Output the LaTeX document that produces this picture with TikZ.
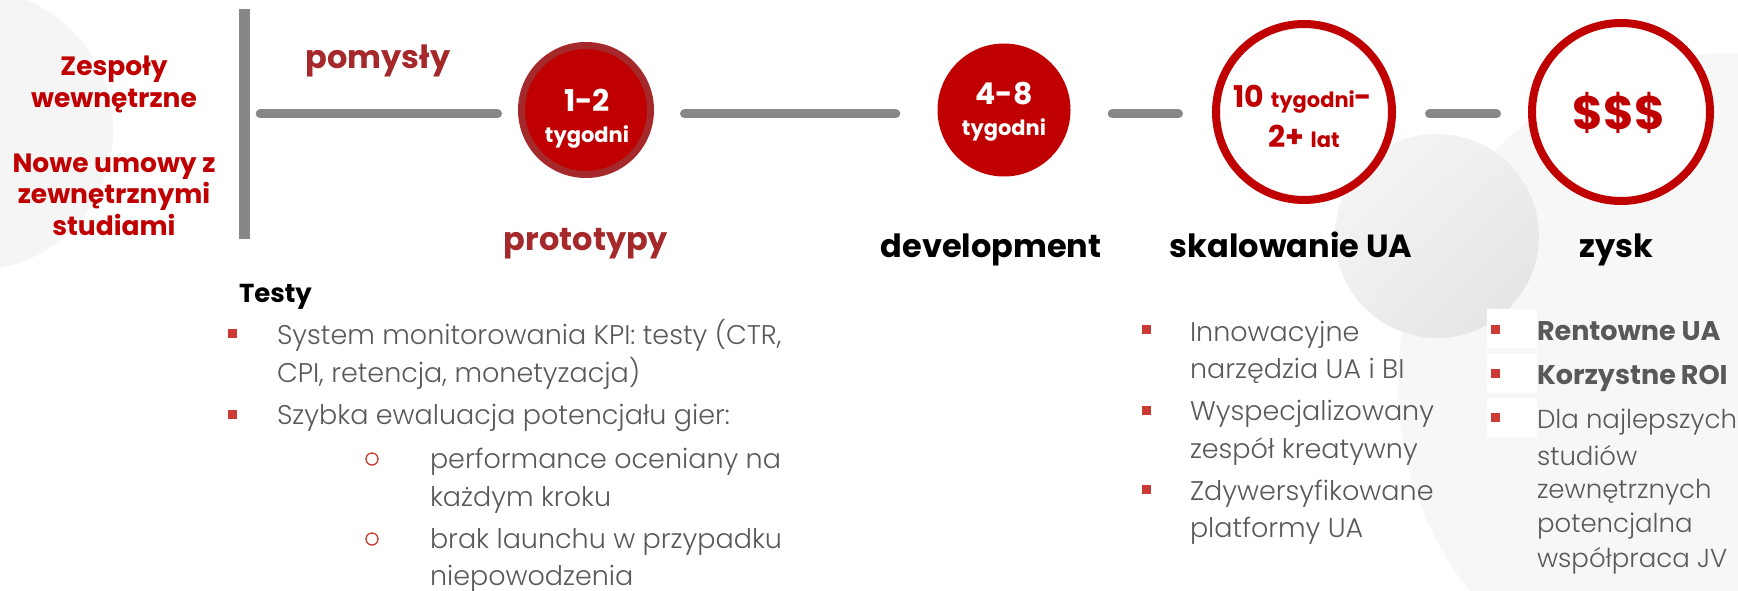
\documentclass[tikz,border=0pt]{standalone}
\usepackage{fontspec}
\setmainfont{Poppins}
\IfFontExistsTF{Poppins Light}{\newfontfamily\lightf{Poppins Light}}{\newfontfamily\lightf{Poppins}}
\usetikzlibrary{shadings}
\definecolor{cred}{HTML}{C00000}
\definecolor{cbrown}{HTML}{A5282A}
\definecolor{cgray}{HTML}{878787}
\definecolor{ctext}{HTML}{595959}
\definecolor{cbul}{HTML}{CC3A35}
\definecolor{bgA}{HTML}{F5F5F5}
\definecolor{bgB}{HTML}{F7F7F7}
\definecolor{shA}{HTML}{F6F6F6}
\definecolor{shB}{HTML}{EEEEEE}
\definecolor{shC}{HTML}{E2E2E2}
\tikzset{
  conn/.style={draw=cgray, line width=9pt, line cap=round},
  txt/.style={inner sep=0pt, outer sep=0pt},
  side/.style={txt, anchor=base, text=cred, font=\fontsize{26.5}{30}\selectfont\bfseries},
  head/.style={txt, anchor=base, font=\fontsize{32}{38}\selectfont\bfseries},
  lst/.style={txt, anchor=base west, text=ctext, font=\lightf\fontsize{27}{30}\selectfont},
  lstr/.style={txt, anchor=base west, text=ctext, font=\lightf\fontsize{26}{30}\selectfont},
  lstb/.style={txt, anchor=base west, text=ctext, font=\fontsize{27}{30}\selectfont\bfseries},
  sq/.style={fill=cbul, minimum size=9pt, inner sep=0pt},
  ring/.style={circle, draw=cbul, line width=1.3pt, minimum size=12pt, inner sep=0pt},
  bignum/.style={txt, anchor=base, font=\fontsize{30}{36}\selectfont\bfseries},
  smallw/.style={txt, anchor=base, font=\fontsize{21}{24}\selectfont\bfseries},
  stage/.style={circle, inner sep=0pt},
  wbox/.style={fill=white, minimum width=50pt, minimum height=39pt, inner sep=0pt}
}
\newcommand{\bigf}{\fontsize{30}{36}\selectfont}
\newcommand{\smallf}{\fontsize{21}{24}\selectfont}
\begin{document}
\begin{tikzpicture}[x=1pt,y=-1pt]
\useasboundingbox (0,0) rectangle (1738,591);
% background
\fill[bgA] (-28,130) circle[radius=141pt];
\fill[bgB] (1730,385) circle[radius=332pt];
\shade[upper left=shA, upper right=shB, lower left=shB, lower right=shC] (1437,236) circle[radius=102pt];

% left side text
\node[side] (s1) at (114,76) {Zespoły};
\node[side] (s2) at (114,108) {wewnętrzne};
\node[side] (s3) at (114,172) {Nowe umowy z};
\node[side] (s4) at (114,203) {zewnętrznymi};
\node[side] (s5) at (114,235) {studiami};

% bar
\node[fill=cgray, minimum width=11pt, minimum height=230pt, inner sep=0pt] (bar) at (244,124) {};

% stages
\node[stage, fill=cred, draw=cbrown, line width=7pt, minimum size=129pt] (c1) at (586,110) {};
\node[stage, fill=cred, minimum size=133pt] (c2) at (1004,110) {};
\node[stage, fill=white, draw=cred, line width=8pt, minimum size=176pt] (c3) at (1304,112) {};
\node[stage, fill=white, draw=cred, line width=8pt, minimum size=178pt] (c4) at (1621,112) {};

% connectors
\coordinate (ly) at (0,114);
\draw[conn, shorten <=10.5pt, shorten >=20.5pt] (bar.east |- ly) -- (c1.west |- ly);
\draw[conn, shorten <=30.5pt, shorten >=41.5pt] (c1.east |- ly) -- (c2.west |- ly);
\draw[conn, shorten <=41.5pt, shorten >=33.5pt] (c2.east |- ly) -- (c3.west |- ly);
\draw[conn, shorten <=33.5pt, shorten >=31.5pt] (c3.east |- ly) -- (c4.west |- ly);

% circle texts
\node[bignum, text=white] (t1a) at (587,112) {1-2};
\node[smallw, text=white] (t1b) at (587,143) {tygodni};
\node[bignum, text=white] (t2a) at (1004,105) {4-8};
\node[smallw, text=white] (t2b) at (1004,136) {tygodni};
\node[txt, anchor=base, text=cred, font=\bfseries] (t3a) at (1303,108) {{\bigf 10 }{\smallf tygodni}{\bigf -}};
\node[txt, anchor=base, text=cred, font=\bfseries] (t3b) at (1304,148) {{\bigf 2+ }{\smallf lat}};
\node[txt, text=cred, font=\fontsize{47}{52}\selectfont\bfseries] (t4) at (1619,113) {\$\$\$};

% headings
\node[head, text=cbrown] (hp) at (378,69) {pomysły};
\node[head, text=cbrown] (h1) at (586,250) {prototypy};
\node[head] (h2) at (991,257) {development};
\node[head] (h3) at (1291,257) {skalowanie UA};
\node[head] (h4) at (1616,257) {zysk};

% left list
\node[txt, anchor=base west, font=\fontsize{26}{30}\selectfont\bfseries] (testy) at (239,302) {Testy};
\node[sq] (b1) at (232.5,333.5) {};
\node[lst] (l1a) at (277,344) {System monitorowania KPI: testy (CTR,};
\node[lst] (l1b) at (277,382) {CPI, retencja, monetyzacja)};
\node[sq] (b2) at (232.5,414) {};
\node[lst] (l2a) at (277,424) {Szybka ewaluacja potencjału gier:};
\node[ring] (r1) at (372,459) {};
\node[lst] (l3a) at (430,468) {performance oceniany na};
\node[lst] (l3b) at (430,506) {każdym kroku};
\node[ring] (r2) at (372,539) {};
\node[lst] (l4a) at (430,548) {brak launchu w przypadku};
\node[lst] (l4b) at (430,585) {niepowodzenia};

% middle-right list
\node[sq] (m1) at (1146,329) {};
\node[lst] (m1a) at (1190,341) {Innowacyjne};
\node[lst] (m1b) at (1190,378) {narzędzia UA i BI};
\node[sq] (m2) at (1146,410) {};
\node[lst] (m2a) at (1190,420) {Wyspecjalizowany};
\node[lst] (m2b) at (1190,458) {zespół kreatywny};
\node[sq] (m3) at (1146,489) {};
\node[lst] (m3a) at (1190,500) {Zdywersyfikowane};
\node[lst] (m3b) at (1190,537) {platformy UA};

% right list
\node[wbox] (w1) at (1512,328) {};
\node[wbox] (w2) at (1512,373) {};
\node[wbox] (w3) at (1512,417) {};
\node[sq] (q1) at (1495,329.5) {};
\node[sq] (q2) at (1495,373) {};
\node[sq] (q3) at (1495,417) {};
\node[lstb] (k1) at (1537,340) {Rentowne UA};
\node[lstb] (k2) at (1537,384) {Korzystne\hspace{5pt}ROI};
\node[lstr] (k3) at (1537,428) {Dla najlepszych};
\node[lstr] (k4) at (1537,465) {studiów};
\node[lstr] (k5) at (1537,498) {zewnętrznych};
\node[lstr] (k6) at (1537,532) {potencjalna};
\node[lstr] (k7) at (1537,567) {współpraca JV};
\end{tikzpicture}
\end{document}
